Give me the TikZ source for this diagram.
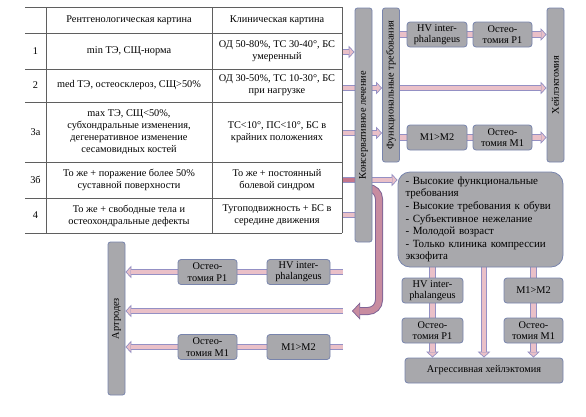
\documentclass[tikz,border=0pt]{standalone}
\usepackage{fontspec}
\setmainfont{Liberation Serif}
\usetikzlibrary{arrows.meta,backgrounds}
\definecolor{boxfill}{RGB}{168,168,172}
\definecolor{boxline}{RGB}{120,132,172}
\definecolor{arrfill}{RGB}{234,192,200}
\definecolor{arrline}{RGB}{148,144,196}
\definecolor{arrdark}{RGB}{196,118,140}
\definecolor{curvfill}{RGB}{200,140,160}
\definecolor{curvline}{RGB}{128,100,150}
\definecolor{gridline}{RGB}{95,95,95}

\begin{document}
\begin{tikzpicture}[x=1pt,y=-1pt,
  font=\fontsize{10.3}{12}\selectfont, % 基本字号
  box/.style={draw=boxline,fill=boxfill,line width=0.8pt,rounded corners=3pt,align=center,
    inner sep=0.5pt,minimum height=25,font=\fontsize{10.3}{11.3}\selectfont},
  bar/.style={box,minimum width=17,rounded corners=2.5pt},
  cell/.style={align=center,inner sep=0pt},
  link/.style={draw=arrline,line width=6.4pt,postaction={draw=arrfill,line width=4.6pt}},
  darklink/.style={draw=arrline,line width=6.4pt,postaction={draw=arrdark,line width=4.6pt}},
  fatarrow/.style={draw=arrline,line width=6.4pt,-{Triangle[length=6pt,width=12.5pt,line width=0.7pt,fill=arrfill]},
    postaction={draw=arrfill,line width=4.6pt,-,shorten >=5.5pt}},
  curvarrow/.style={draw=curvline,line width=8pt,-{Triangle[length=8pt,width=17pt,line width=0.7pt,fill=curvfill]},
    postaction={draw=curvfill,line width=6pt,-,shorten >=7.5pt}},
]
  \useasboundingbox (0,0) rectangle (586,416);

  % 表格
  \draw[gridline,line width=0.6pt] (25,7) -- (342,7);
  \foreach \y in {33,69,102,162,198}
    \draw[gridline,line width=0.6pt] (25,\y) -- (342,\y);
  \draw[gridline,line width=1pt] (25,233) -- (342,233);
  \foreach \x in {46,212,342}
    \draw[gridline,line width=0.6pt] (\x,7) -- (\x,233);

  \node[cell] (h2) at (129,20) {Рентгенологическая картина};
  \node[cell] (h3) at (277,20) {Клиническая картина};
  \node[cell] (n1) at (35.5,51) {1};
  \node[cell] (x1) at (129,51) {min ТЭ, СЩ-норма};
  \node[cell] (c1) at (277,51) {ОД 50-80\%, ТС 30-40°, БС\\умеренный};
  \node[cell] (n2) at (35.5,85.5) {2};
  \node[cell] (x2) at (129,85.5) {med ТЭ, остеосклероз, СЩ>50\%};
  \node[cell] (c2) at (277,85.5) {ОД 30-50\%, ТС 10-30°, БС\\при нагрузке};
  \node[cell] (n3) at (35.5,132) {3а};
  \node[cell] (x3) at (129,132) {max ТЭ, СЩ<50\%,\\субхондральные изменения,\\дегенеративное изменение\\сесамовидных костей};
  \node[cell] (c3) at (277,132) {ТС<10°, ПС<10°, БС в\\крайних положениях};
  \node[cell] (n4) at (35.5,180) {3б};
  \node[cell] (x4) at (129,180) {То же + поражение более 50\%\\суставной поверхности};
  \node[cell] (c4) at (277,180) {То же + постоянный\\болевой синдром};
  \node[cell] (n5) at (35.5,215.5) {4};
  \node[cell] (x5) at (129,215.5) {То же + свободные тела и\\остеохондральные дефекты};
  \node[cell] (c5) at (277,215.5) {Тугоподвижность + БС в\\середине движения};

  \coordinate (r1) at (342,52);
  \coordinate (r2) at (342,88);
  \coordinate (r3) at (342,133);
  \coordinate (r4) at (342,180);
  \coordinate (r5) at (342,215);
  \coordinate (cstart) at (363.5,188);
  \coordinate (cturn) at (379,311);

  % 竖条
  \node[bar,minimum height=234] (kons) at (363.5,125) {\rotatebox{90}{Консервативное лечение}};
  \node[bar,minimum height=154] (func) at (391,85) {\rotatebox{90}{Функциональные требования}};
  \node[bar,minimum height=154] (heil) at (555.5,85) {\rotatebox{90}{Хейлэктомия}};
  \node[bar,minimum height=153] (arth) at (116.5,318.5) {\rotatebox{90}{Артродез}};

  % 右上
  \node[box,minimum width=60] (hv1) at (437,34.5) {HV inter-\\phalangeus};
  \node[box,minimum width=59] (os1) at (502.5,34.5) {Остео-\\томия P1};
  \node[box,minimum width=60] (mm1) at (437,137.5) {M1>M2};
  \node[box,minimum width=59] (om1) at (502.5,137.5) {Остео-\\томия M1};

  % 右下
  \node[box,rounded corners=12pt,minimum width=165,minimum height=95,text width=150,align=left,
    font=\fontsize{11}{12.6}\selectfont] (crit) at (480.5,219.5)
    {- Высокие функциональные\\требования\\- Высокие требования к обуви\\- Субъективное нежелание\\- Молодой возраст\\- Только клиника компрессии\\экзофита};
  \node[box,minimum width=61] (hv2) at (432.5,290.5) {HV inter-\\phalangeus};
  \node[box,minimum width=61] (os2) at (432.5,330.5) {Остео-\\томия P1};
  \node[box,minimum width=59] (mm2) at (533.5,290.5) {M1>M2};
  \node[box,minimum width=59] (om2) at (533.5,330.5) {Остео-\\томия M1};
  \node[box,minimum width=158] (aggr) at (484,370.5) {Агрессивная хейлэктомия};

  % 左下
  \node[box,minimum width=63] (hv3) at (298.5,272) {HV inter-\\phalangeus};
  \node[box,minimum width=59] (os3) at (207.5,272) {Остео-\\томия P1};
  \node[box,minimum width=63] (mm3) at (298.5,347) {M1>M2};
  \node[box,minimum width=59] (om3) at (207.5,347) {Остео-\\томия M1};
  \coordinate (b1) at (343,272);
  \coordinate (b2) at (343,311);
  \coordinate (b3) at (343,347);

  \begin{scope}[on background layer]
    \draw[fatarrow] (r1) -- (r1 -| kons.west);
    \draw[fatarrow] (r2) -- (r2 -| func.west);
    \draw[fatarrow] (r3) -- (r3 -| func.west);
    \draw[darklink] (r4) -- (r4 -| kons.east);
    \draw[fatarrow] (kons.east |- r4) -- (crit.west |- r4);
    \draw[link] (r5) -- (r5 -| kons.east);
    \draw[curvarrow,rounded corners=11pt] (cstart) -| (cturn) -- ([xshift=9pt]b2);

    \draw[link] (func.east |- hv1) -- (hv1.west);
    \draw[link] (hv1.east) -- (os1.west);
    \draw[fatarrow] (os1.east) -- (os1 -| heil.west);
    \draw[fatarrow] (func.east |- r2) -- (heil.west |- r2);
    \draw[link] (func.east |- mm1) -- (mm1.west);
    \draw[link] (mm1.east) -- (om1.west);
    \draw[fatarrow] (om1.east) -- (om1 -| heil.west);

    \draw[link] (crit.south -| hv2) -- (hv2.north);
    \draw[link] (hv2.south) -- (os2.north);
    \draw[fatarrow] (os2.south) -- (os2 |- aggr.north);
    \draw[fatarrow] (crit.south -| aggr) -- (aggr.north);
    \draw[link] (crit.south -| mm2) -- (mm2.north);
    \draw[link] (mm2.south) -- (om2.north);
    \draw[fatarrow] (om2.south) -- (om2 |- aggr.north);

    \draw[link] (b1) -- (hv3.east);
    \draw[link] (hv3.west) -- (os3.east);
    \draw[fatarrow] (os3.west) -- (os3 -| arth.east);
    \draw[fatarrow] (b2) -- (b2 -| arth.east);
    \draw[link] (b3) -- (mm3.east);
    \draw[link] (mm3.west) -- (om3.east);
    \draw[fatarrow] (om3.west) -- (om3 -| arth.east);
  \end{scope}
\end{tikzpicture}
\end{document}
